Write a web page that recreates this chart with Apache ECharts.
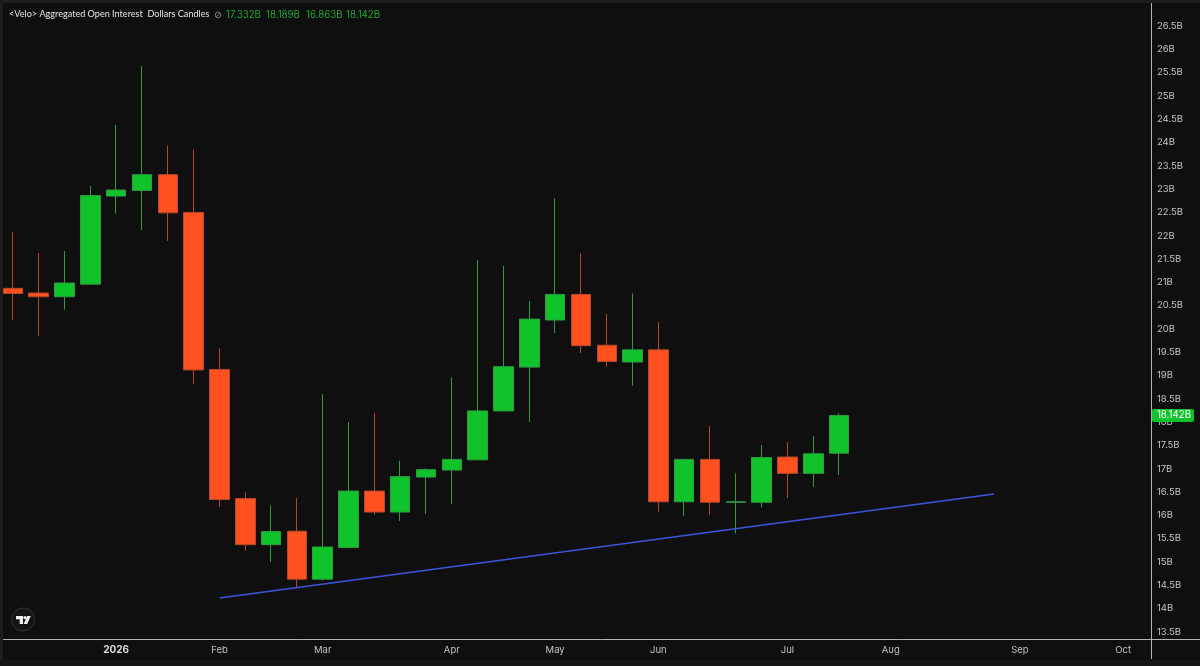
<!DOCTYPE html>
<html>
<head>
<meta charset="utf-8">
<title>Aggregated Open Interest</title>
<style>
  html, body { margin: 0; padding: 0; background: #0f0f0f; }
  #chart { width: 1200px; height: 666px; }
</style>
<script src="https://cdn.jsdelivr.net/npm/echarts@6/dist/echarts.min.js"></script>
</head>
<body>
<div id="chart"></div>
<script>
// Weekly buckets, labelled by the Monday that opens them.
const weeks = [
  '2025-12-08','2025-12-15','2025-12-22','2025-12-29','2026-01-05','2026-01-12','2026-01-19','2026-01-26',
  '2026-02-02','2026-02-09','2026-02-16','2026-02-23','2026-03-02','2026-03-09','2026-03-16','2026-03-23',
  '2026-03-30','2026-04-06','2026-04-13','2026-04-20','2026-04-27','2026-05-04','2026-05-11','2026-05-18',
  '2026-05-25','2026-06-01','2026-06-08','2026-06-15','2026-06-22','2026-06-29','2026-07-06','2026-07-13',
  '2026-07-20','2026-07-27','2026-08-03','2026-08-10','2026-08-17','2026-08-24','2026-08-31','2026-09-07',
  '2026-09-14','2026-09-21','2026-09-28','2026-10-05','2026-10-12'
];

// Open interest in billions of dollars.
const opens  = [20.87,20.77,20.69,20.96,22.85,22.97,23.31,22.50,19.13,16.36,15.37,15.66,14.63,15.31,16.52,16.07,16.82,16.97,17.19,18.24,19.18,20.19,20.74,19.65,19.29,19.55,16.29,17.20,16.28,16.28,17.25,16.90,17.332];
const closes = [20.76,20.69,20.985,22.86,22.98,23.31,22.49,19.12,16.34,15.37,15.65,14.63,15.32,16.52,16.07,16.83,16.98,17.20,18.24,19.19,20.21,20.74,19.64,19.30,19.55,16.29,17.20,16.28,16.29,17.24,16.90,17.32,18.142];
const lows   = [20.19,19.85,20.41,20.96,22.47,22.12,21.89,18.82,16.18,15.24,15.00,14.45,14.60,15.31,16.01,15.88,16.03,16.24,17.18,18.24,18.00,19.91,19.48,19.19,18.78,16.08,15.98,16.01,15.61,16.17,16.37,16.61,16.863];
const highs  = [22.08,21.63,21.67,23.07,24.38,25.64,23.93,23.85,19.58,16.49,16.21,16.37,18.60,18.00,18.20,17.17,17.01,18.96,21.48,21.35,20.60,22.80,21.62,20.32,20.76,20.15,17.21,17.92,16.90,17.51,17.57,17.70,18.189];

// Support line, anchored on two weeks.
const trendWeeks  = [8, 38];
const trendValues = [14.225, 16.457];

// Time axis labels, keyed by the week they sit under.
const monthLabels = {
  '2026-01-05': '2026', '2026-02-02': 'Feb', '2026-03-02': 'Mar', '2026-04-06': 'Apr', '2026-05-04': 'May',
  '2026-06-01': 'Jun', '2026-07-06': 'Jul', '2026-08-03': 'Aug', '2026-09-07': 'Sep', '2026-10-05': 'Oct'
};

const headerTitle = '<Velo> Aggregated Open Interest  Dollars Candles';
const lastOhlc = [17.332, 18.189, 16.863, 18.142];
const lastPrice = 18.142;

const UP = '#10c32a', DOWN = '#ff5020';
const UP_WICK = '#2f9a40', DOWN_WICK = '#b5492c';
const TEXT = '#c4c4c4', RULE = '#b4b4b4';
const FONT = 'Inter, Roboto, sans-serif';
const fmt = v => v.toFixed(3) + 'B';

const chart = echarts.init(document.getElementById('chart'), null, { renderer: 'canvas' });

const headerValues = lastOhlc.map((v, i) => ({
  type: 'text', left: 226 + i * 40, top: 10, z: 10,
  style: { text: fmt(v), fill: '#22a635', font: '9.7px ' + FONT }
}));

chart.setOption({
  animation: false,
  backgroundColor: '#0f0f0f',
  grid: { left: -0.92, top: 2.7, width: 1162.8, height: 652.4, containLabel: false },
  xAxis: {
    type: 'category',
    data: weeks,
    offset: -16,
    axisLine: { show: false },
    axisTick: { show: false },
    splitLine: { show: false },
    axisLabel: {
      margin: 6,
      color: TEXT,
      fontFamily: FONT,
      fontSize: 9.5,
      hideOverlap: false,
      interval: (i, w) => w in monthLabels,
      formatter: w => {
        const s = monthLabels[w] || '';
        return s === '2026' ? '{y|2026}' : s;
      },
      rich: { y: { fontWeight: 'bold', color: '#dcdcdc', fontFamily: FONT, fontSize: 10 } }
    }
  },
  yAxis: [
    {
      type: 'value', position: 'right', offset: -11,
      min: 13, max: 27, interval: 0.5, scale: true,
      axisLine: { show: false }, axisTick: { show: false }, splitLine: { show: false },
      axisLabel: {
        margin: 6, color: TEXT, fontFamily: FONT, fontSize: 9.5,
        showMinLabel: false, showMaxLabel: false,
        formatter: v => v + 'B'
      }
    },
    {
      type: 'value', position: 'right', offset: -11,
      min: 13, max: 27, z: 20,
      axisLine: { show: false }, axisTick: { show: false }, splitLine: { show: false },
      axisLabel: {
        customValues: [lastPrice],
        margin: 1, color: '#ffffff', fontFamily: FONT, fontSize: 9.7,
        backgroundColor: UP, borderRadius: 2, padding: [2, 3, 1, 5],
        formatter: v => fmt(v)
      }
    }
  ],
  series: [
    {
      type: 'candlestick',
      yAxisIndex: 0,
      barWidth: 20,
      silent: true,
      data: opens.map((o, i) => [o, closes[i], lows[i], highs[i]]),
      itemStyle: { color: UP, color0: DOWN, borderColor: UP_WICK, borderColor0: DOWN_WICK, borderWidth: 1 }
    },
    {
      type: 'line',
      yAxisIndex: 0,
      silent: true,
      symbol: 'none',
      data: trendWeeks.map((w, i) => [w, trendValues[i]]),
      lineStyle: { color: '#3d55dc', width: 1.4 }
    }
  ],
  graphic: [
    // Pane frame and axis rules
    { type: 'rect', silent: true, z: 1, shape: { x: 0, y: 0, width: 1200, height: 3 }, style: { fill: '#1d1d1d' } },
    { type: 'rect', silent: true, z: 1, shape: { x: 0, y: 0, width: 3, height: 666 }, style: { fill: '#1d1d1d' } },
    { type: 'rect', silent: true, z: 1, shape: { x: 0, y: 660, width: 1200, height: 6 }, style: { fill: '#161616' } },
    { type: 'line', silent: true, z: 1, shape: { x1: 3, y1: 639.5, x2: 1200, y2: 639.5 }, style: { stroke: RULE, lineWidth: 1 } },
    { type: 'line', silent: true, z: 1, shape: { x1: 1151.5, y1: 3, x2: 1151.5, y2: 659 }, style: { stroke: RULE, lineWidth: 1 } },
    // Header legend
    { type: 'text', left: 9, top: 10, z: 10, style: { text: headerTitle, fill: '#e6e6e6', font: '9.1px Lato, ' + FONT } },
    { type: 'circle', silent: true, z: 10, shape: { cx: 218, cy: 15, r: 2.8 }, style: { fill: 'none', stroke: '#777', lineWidth: 1 } },
    { type: 'line', silent: true, z: 10, shape: { x1: 216, y1: 17, x2: 220, y2: 13 }, style: { stroke: '#777', lineWidth: 1 } },
    ...headerValues,
    // Platform badge
    { type: 'circle', silent: true, z: 10, shape: { cx: 23, cy: 619.5, r: 11.5 }, style: { fill: '#141414', stroke: '#333', lineWidth: 1 } },
    { type: 'polygon', silent: true, z: 11, shape: { points: [[16, 616], [23, 616], [23, 624], [19.7, 624], [19.7, 619.2], [16, 619.2]] }, style: { fill: '#f2f2f2' } },
    { type: 'circle', silent: true, z: 11, shape: { cx: 25, cy: 617.6, r: 1.6 }, style: { fill: '#f2f2f2' } },
    { type: 'polygon', silent: true, z: 11, shape: { points: [[27.2, 616], [30.8, 616], [27.2, 624], [23.7, 624]] }, style: { fill: '#f2f2f2' } }
  ]
});
</script>
</body>
</html>
